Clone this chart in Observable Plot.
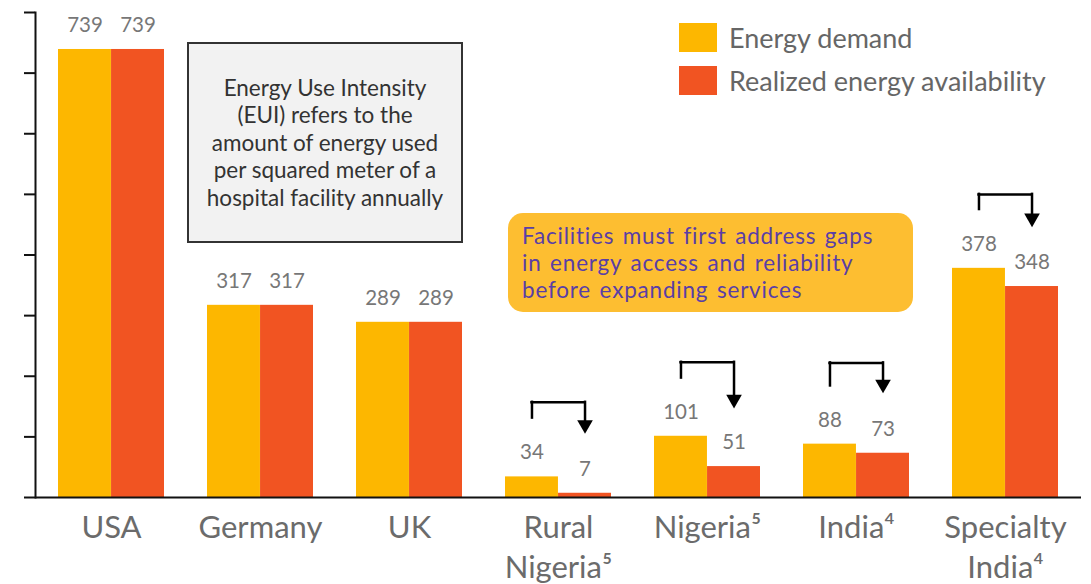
<!DOCTYPE html>
<html>
<head>
<meta charset="utf-8">
<script src="https://cdn.jsdelivr.net/npm/d3@7"></script>
<script src="https://cdn.jsdelivr.net/npm/@observablehq/plot@0.6"></script>
<style>
  html, body { margin: 0; padding: 0; background: #fff; }
  #wrap { position: relative; width: 1091px; height: 584px; font-family: Lato, "Noto Sans", sans-serif; }
  #wrap svg { position: absolute; left: 0; top: 0; }
  .legend { position: absolute; left: 679px; top: 23px; }
  .legend .item { display: flex; align-items: center; height: 29px; margin-bottom: 14px; }
  .legend .sw { width: 38px; height: 29px; margin-right: 12px; }
  .legend .lab { font-size: 27px; color: #666; white-space: nowrap; }
  .note { position: absolute; left: 187px; top: 42px; width: 272px; height: 197px; border: 2px solid #333;
          background: #f2f2f2; display: flex; align-items: center; justify-content: center; text-align: center;
          font-size: 22.5px; line-height: 27.5px; color: #333; }
  .callout { position: absolute; left: 508px; top: 213px; width: 391px; height: 99px; padding-left: 14px;
             border-radius: 15px; background: #FDBE31; display: flex; align-items: center;
             font-size: 22.5px; line-height: 27.2px; letter-spacing: 0.8px; word-spacing: 2px; color: #5A3EA6; }
</style>
</head>
<body>
<div id="wrap"></div>
<script>
const categories = ["USA", "Germany", "UK", "Rural\nNigeria⁵", "Nigeria⁵", "India⁴", "Specialty\nIndia⁴"];
const demand = [739, 317, 289, 34, 101, 88, 378];
const availability = [739, 317, 289, 7, 51, 73, 348];
const yTicks = [0, 100, 200, 300, 400, 500, 600, 700, 800];
const seriesNames = ["Energy demand", "Realized energy availability"];
const seriesColors = ["#FDB700", "#F15422"];

// bracket arrows (values in data units): category, start of left leg, top, arrow tip
const bracketCats = ["Rural\nNigeria⁵", "Nigeria⁵", "India⁴", "Specialty\nIndia⁴"];
const bracketStart = [131, 197, 184, 475];
const bracketTop = [157, 223, 222, 500];
const bracketTip = [105, 147, 172, 446];

const rows = categories.map((c, i) => ({cat: c, demand: demand[i], avail: availability[i]}));
const brackets = bracketCats.map((c, i) => ({cat: c, start: bracketStart[i], top: bracketTop[i], tip: bracketTip[i]}));

const W = 1091, H = 584, ML = 35, MR = 10, MT = 12, MB = 87;
const pad = 0.29;
const step = (W - ML - MR) / categories.length;
const bw = step * (1 - pad);
const half = bw / 2, q = bw / 4;

const chart = Plot.plot({
  width: W, height: H,
  marginLeft: ML, marginRight: MR, marginTop: MT, marginBottom: MB,
  style: {fontFamily: "Lato, 'Noto Sans', sans-serif", background: "transparent"},
  x: {domain: categories, paddingInner: pad, paddingOuter: pad / 2, label: null},
  y: {domain: [0, 800], label: null},
  marks: [
    Plot.axisY({ticks: yTicks, tickSize: 11, tickFormat: () => "", stroke: "#111", strokeWidth: 2, label: null}),
    Plot.frame({anchor: "left", stroke: "#111", strokeWidth: 2}),
    Plot.axisX({tickSize: 0, tickPadding: 12, fontSize: 31, fill: "#6b6b6b", lineHeight: 1.29, lineAnchor: "top", label: null}),
    Plot.barY(rows, {x: "cat", y: "demand", fill: seriesColors[0], insetRight: half}),
    Plot.barY(rows, {x: "cat", y: "avail", fill: seriesColors[1], insetLeft: half}),
    Plot.ruleY([0], {stroke: "#111", strokeWidth: 2}),
    Plot.text(rows, {x: "cat", y: "demand", text: "demand", dx: -q, dy: -24, fontSize: 20.5, fill: "#777"}),
    Plot.text(rows, {x: "cat", y: "avail", text: "avail", dx: q, dy: -24, fontSize: 20.5, fill: "#777"}),
    Plot.ruleX(brackets, {x: "cat", y1: "start", y2: "top", dx: -q, stroke: "#000", strokeWidth: 2.5, strokeLinecap: "square"}),
    Plot.ruleY(brackets, {x1: "cat", x2: "cat", y: "top", insetLeft: q, insetRight: q, stroke: "#000", strokeWidth: 2.5, strokeLinecap: "square"}),
    Plot.ruleX(brackets, {x: "cat", y1: "top", y2: "tip", dx: q, insetBottom: 8, stroke: "#000", strokeWidth: 2.5, strokeLinecap: "square"}),
    Plot.dot(brackets, {x: "cat", y: "tip", dx: q, dy: -9, symbol: "triangle", rotate: 180, r: 5.8, fill: "#000", stroke: null})
  ]
});

const wrap = document.getElementById("wrap");
wrap.appendChild(chart);

const legend = document.createElement("div");
legend.className = "legend";
seriesNames.forEach((n, i) => {
  const it = document.createElement("div");
  it.className = "item";
  const sw = document.createElement("div");
  sw.className = "sw"; sw.style.background = seriesColors[i];
  const lab = document.createElement("div");
  lab.className = "lab"; lab.textContent = n;
  it.appendChild(sw); it.appendChild(lab);
  legend.appendChild(it);
});
wrap.appendChild(legend);

const note = document.createElement("div");
note.className = "note";
note.innerHTML = "<div>Energy Use Intensity<br>(EUI) refers to the<br>amount of energy used<br>per squared meter of a<br>hospital facility annually</div>";
wrap.appendChild(note);

const callout = document.createElement("div");
callout.className = "callout";
callout.innerHTML = "<div>Facilities must first address gaps<br>in energy access and reliability<br>before expanding services</div>";
wrap.appendChild(callout);
</script>
</body>
</html>
